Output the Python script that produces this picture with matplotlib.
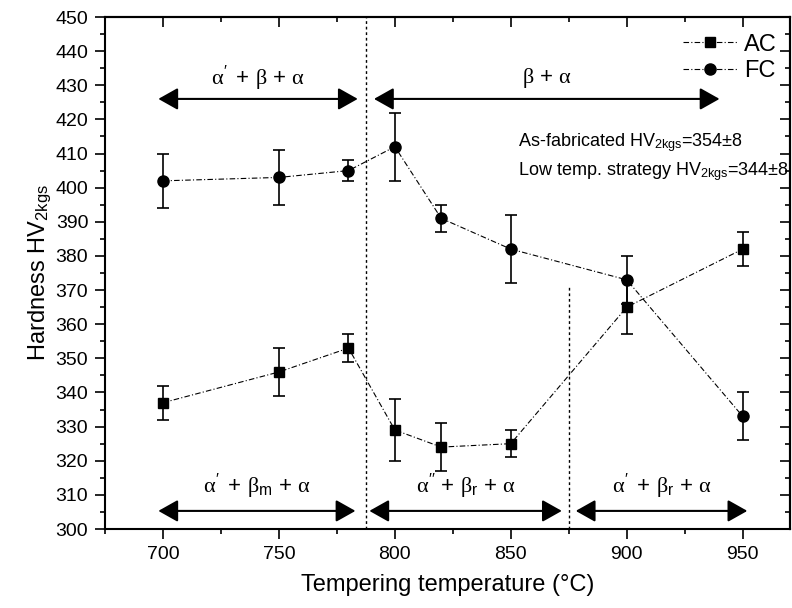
import numpy as np
import matplotlib
matplotlib.use("Agg")
import matplotlib.pyplot as plt
from matplotlib.ticker import MultipleLocator

plt.rcParams["font.family"] = ["Liberation Sans", "DejaVu Sans"]
plt.rcParams["mathtext.fontset"] = "custom"
plt.rcParams["mathtext.rm"] = "Liberation Sans"
plt.rcParams["mathtext.it"] = "Liberation Serif"
plt.rcParams["mathtext.bf"] = "Liberation Sans:bold"

# tempering temperatures (degC)
temps = [700, 750, 780, 800, 820, 850, 900, 950]
# air cooled
ac_hv = [337, 346, 353, 329, 324, 325, 365, 382]
ac_err = [5, 7, 4, 9, 7, 4, 8, 5]
# furnace cooled
fc_hv = [402, 403, 405, 412, 391, 382, 373, 333]
fc_err = [8, 8, 3, 10, 4, 10, 7, 7]

# phase regions: (label, x start, x end)
top_regions = [(r"$\alpha'\,$ + $\beta$ + $\alpha$", 698, 784),
               (r"$\beta$ + $\alpha$", 791, 940)]
bottom_regions = [(r"$\alpha'\,$ + $\beta_{\mathrm{m}}$ + $\alpha$", 698, 783),
                  (r"$\alpha''$ + $\beta_{\mathrm{r}}$ + $\alpha$", 789, 872),
                  (r"$\alpha'\,$ + $\beta_{\mathrm{r}}$ + $\alpha$", 878, 952)]
top_arrow_y, top_text_y = 426, 432
bottom_arrow_y, bottom_text_y = 305.3, 312.4

# transformation boundaries
boundary1 = 787.5
boundary2 = 875
boundary2_top = 371

notes = [r"As-fabricated HV$_{\mathrm{2kgs}}$=354$\pm$8",
         r"Low temp. strategy HV$_{\mathrm{2kgs}}$=344$\pm$8"]
notes_y = [413.3, 404.7]

fig = plt.figure(figsize=(7.92, 6.08), dpi=100)
ax = fig.add_axes([105 / 792, 1 - 529 / 608, 685 / 792, 512 / 608])

dash = (5, 2, 1, 2)
err_kw = dict(fmt="none", elinewidth=1.2, capsize=4, capthick=1.2,
              ecolor="black")
ax.errorbar(temps, ac_hv, yerr=ac_err, **err_kw)
ax.errorbar(temps, fc_hv, yerr=fc_err, **err_kw)
ax.plot(temps, ac_hv, color="black", lw=0.8, dashes=dash, marker="s",
        ms=7.5, mfc="black", mec="black", label="AC")
ax.plot(temps, fc_hv, color="black", lw=0.8, dashes=dash, marker="o",
        ms=8, mfc="black", mec="black", label="FC")

ax.axvline(boundary1, color="black", lw=1.0, ls=(0, (2, 2)))
ax.plot([boundary2, boundary2], [300, boundary2_top], color="black", lw=1.0,
        ls=(0, (2, 2)))

arrow_kw = dict(arrowstyle="<|-|>,head_length=0.8,head_width=0.45",
                color="black", lw=1.5, shrinkA=0, shrinkB=0, mutation_scale=15)
for label, x0, x1 in top_regions:
    ax.annotate("", xy=(x1, top_arrow_y), xytext=(x0, top_arrow_y),
                arrowprops=arrow_kw)
    ax.text((x0 + x1) / 2, top_text_y, label, ha="center", va="center",
            fontsize=16)
for label, x0, x1 in bottom_regions:
    ax.annotate("", xy=(x1, bottom_arrow_y), xytext=(x0, bottom_arrow_y),
                arrowprops=arrow_kw)
    ax.text((x0 + x1) / 2, bottom_text_y, label, ha="center", va="center",
            fontsize=16)

for txt, y in zip(notes, notes_y):
    ax.text(853, y, txt, ha="left", va="center", fontsize=13)

ax.set_xlim(675, 970.4)
ax.set_ylim(300, 450)
ax.xaxis.set_major_locator(MultipleLocator(50))
ax.xaxis.set_minor_locator(MultipleLocator(25))
ax.yaxis.set_major_locator(MultipleLocator(10))
ax.yaxis.set_minor_locator(MultipleLocator(5))
ax.tick_params(which="major", direction="out", length=7, width=1.2,
               labelsize=14, pad=5)
ax.tick_params(which="minor", direction="out", length=3.5, width=1.2)
for s in ax.spines.values():
    s.set_linewidth(1.5)

# inward ticks on top and right
top = ax.secondary_xaxis("top")
top.xaxis.set_major_locator(MultipleLocator(50))
top.xaxis.set_minor_locator(MultipleLocator(25))
top.tick_params(which="major", direction="in", length=7, width=1.2,
                labeltop=False)
top.tick_params(which="minor", direction="in", length=3.5, width=1.2)
right = ax.secondary_yaxis("right")
right.yaxis.set_major_locator(MultipleLocator(10))
right.yaxis.set_minor_locator(MultipleLocator(5))
right.tick_params(which="major", direction="in", length=7, width=1.2,
                  labelright=False)
right.tick_params(which="minor", direction="in", length=3.5, width=1.2)
top.spines["top"].set_linewidth(1.5)
right.spines["right"].set_linewidth(1.5)

ax.set_xlabel("Tempering temperature (°C)", fontsize=17, labelpad=8)
ax.set_ylabel(r"Hardness HV$_{\mathrm{2kgs}}$", fontsize=17, labelpad=2)

ax.legend(loc="upper right", bbox_to_anchor=(1.005, 1.0), frameon=False,
          fontsize=17, handlelength=2.3, handletextpad=0.3, labelspacing=0.2,
          borderaxespad=0.3)

fig.savefig("out.png", dpi=100)
